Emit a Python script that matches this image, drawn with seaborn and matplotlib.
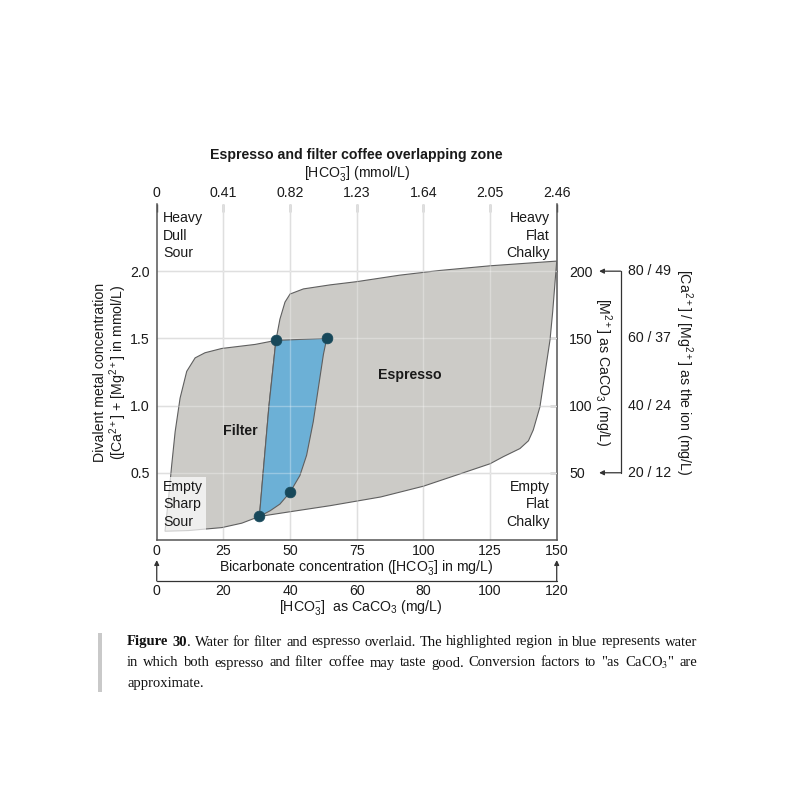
import matplotlib
matplotlib.use('Agg')
import matplotlib.pyplot as plt
import matplotlib.transforms as mtransforms
from matplotlib.patches import Rectangle
import seaborn as sns

# ---- values ----
bicarb_ticks = [0, 25, 50, 75, 100, 125, 150]                     # HCO3- in mg/L
mmol_labels = ['0', '0.41', '0.82', '1.23', '1.64', '2.05', '2.46']
caco3_x_labels = ['0', '20', '40', '60', '80', '100', '120']
metal_ticks = [0.5, 1.0, 1.5, 2.0]                                # mmol/L
caco3_y_labels = ['50', '100', '150', '200']
ion_labels = ['20 / 12', '40 / 24', '60 / 37', '80 / 49']

# filter zone outline (outside the overlap), from bottom overlap corner round to top overlap corner
filter_outer_x = [38.5, 31.9, 24.4, 11.9, 3.1, 4.4, 5.6, 6.9, 8.75, 11.25, 14.4, 18.1, 24.4, 36.9, 44.7]
filter_outer_y = [0.175, 0.125, 0.092, 0.07, 0.065, 0.305, 0.555, 0.805, 1.055, 1.255, 1.355, 1.393,
                  1.425, 1.455, 1.485]
# right edge of the filter zone (= right side of the overlap)
overlap_right_x = [63.75, 62.5, 60.6, 58.7, 56.2, 53.7, 50.0, 46.2, 42.5, 38.5]
overlap_right_y = [1.5, 1.38, 1.13, 0.88, 0.63, 0.48, 0.355, 0.267, 0.217, 0.175]
# left edge of the espresso zone inside the filter zone (= left side of the overlap)
overlap_left_x = [38.5, 39.9, 42.1, 44.7]
overlap_left_y = [0.175, 0.5, 1.0, 1.485]
# espresso zone outline outside the filter zone
espresso_outer_x = [44.7, 46.2, 48.1, 50, 55, 65, 75, 91, 106, 125, 150, 149.3, 148.5, 147.5, 145.6,
                    143.7, 141.2, 139.4, 136.2, 130, 125, 112, 100, 84, 65, 50, 38.5]
espresso_outer_y = [1.485, 1.643, 1.77, 1.83, 1.868, 1.898, 1.922, 1.97, 2.005, 2.04, 2.075, 1.9, 1.7,
                    1.49, 1.24, 0.99, 0.818, 0.738, 0.68, 0.62, 0.567, 0.48, 0.4, 0.32, 0.255, 0.21, 0.175]
corner_x = [44.7, 63.75, 50.0, 38.5]
corner_y = [1.485, 1.5, 0.355, 0.175]

caption_lines = [
    'Figure 30. Water for filter and espresso overlaid. The highlighted region in blue represents water',
    'in which both espresso and filter coffee may taste good. Conversion factors to "as CaCO$_3$" are',
    'approximate.',
]

sns.set_theme(style='white')
plt.rcParams['font.family'] = ['Liberation Sans', 'DejaVu Sans']
plt.rcParams['mathtext.fontset'] = 'custom'
plt.rcParams['mathtext.rm'] = 'Liberation Sans'
plt.rcParams['mathtext.it'] = 'Liberation Sans:italic'
plt.rcParams['mathtext.bf'] = 'Liberation Sans:bold'

FS = 10.2
INK = '#1a1a1a'
AXC = '#555555'
GREY = '#cccbc7'
BLUE = '#6cb0d6'
EDGE = '#5f5f5f'

fig = plt.figure(figsize=(7.9, 7.9), dpi=100)
ax = fig.add_axes([0.1984, 0.3165, 0.5063, 0.4253])
ax.set_xlim(0, 150)
ax.set_ylim(0, 2.5)

# zones
ax.fill(filter_outer_x + overlap_right_x, filter_outer_y + overlap_right_y,
        fc=GREY, ec=EDGE, lw=0.8, zorder=1)
ax.fill(overlap_left_x + espresso_outer_x, overlap_left_y + espresso_outer_y,
        fc=GREY, ec=EDGE, lw=0.8, zorder=1.1)
ax.fill(overlap_left_x + overlap_right_x, overlap_left_y + overlap_right_y,
        fc=BLUE, ec=EDGE, lw=0.8, zorder=1.2)
sns.scatterplot(x=corner_x, y=corner_y, s=60, color='#17485a', edgecolor='#17485a',
                linewidth=0.5, zorder=5, ax=ax)

# grid: grey below the zones, light above them
for x in bicarb_ticks[1:-1]:
    ax.axvline(x, color='#d2d2d2', lw=1.0, zorder=0.5)
    ax.axvline(x, color='white', lw=1.0, alpha=0.3, zorder=2)
for y in metal_ticks:
    ax.axhline(y, color='#d2d2d2', lw=1.0, zorder=0.5)
    ax.axhline(y, color='white', lw=1.0, alpha=0.3, zorder=2)

# axes styling
for s in ['top', 'right']:
    ax.spines[s].set_visible(False)
for s in ['left', 'bottom']:
    ax.spines[s].set_color(AXC)
    ax.spines[s].set_linewidth(1.1)
ax.set_xticks(bicarb_ticks, labels=[str(t) for t in bicarb_ticks])
ax.set_yticks(metal_ticks, labels=['%.1f' % t for t in metal_ticks])
ax.tick_params(axis='x', direction='in', length=6, width=1, color=AXC, pad=3.2,
               labelsize=FS, labelcolor=INK)
ax.tick_params(axis='y', direction='in', length=6, width=1, color=AXC, pad=5,
               labelsize=FS, labelcolor=INK)

top = ax.secondary_xaxis('top')
top.set_xticks(bicarb_ticks, labels=mmol_labels)
top.tick_params(direction='in', length=6, width=1, color=AXC, pad=3.0, labelsize=FS, labelcolor=INK)
top.spines['top'].set_visible(False)

right = ax.secondary_yaxis('right')
right.set_yticks(metal_ticks, labels=caco3_y_labels)
right.tick_params(direction='in', length=5, width=1, color=AXC, pad=9, labelsize=FS, labelcolor=INK)
right.spines['right'].set_color(AXC)
right.spines['right'].set_linewidth(1.1)

# titles and axis labels
ax.text(0.5, 1.146, 'Espresso and filter coffee overlapping zone', transform=ax.transAxes,
        ha='center', va='center', fontsize=10.2, fontweight='bold', color=INK)
ax.text(0.5, 1.092, '[HCO$_3^{-}$] (mmol/L)', transform=ax.transAxes,
        ha='center', va='center', fontsize=FS, color=INK)
ax.text(0.5, -0.083, 'Bicarbonate concentration ([HCO$_3^{-}$] in mg/L)', transform=ax.transAxes,
        ha='center', va='center', fontsize=FS, color=INK)
ax.text(-0.141, 0.5, 'Divalent metal concentration', transform=ax.transAxes, ha='center',
        va='center', rotation=90, fontsize=FS, color=INK)
ax.text(-0.097, 0.5, '([Ca$^{2+}$] + [Mg$^{2+}$] in mmol/L)', transform=ax.transAxes, ha='center',
        va='center', rotation=90, fontsize=FS, color=INK)

# bottom bracket: HCO3- as CaCO3
bx = mtransforms.blended_transform_factory(ax.transData, ax.transAxes)
ax.plot([bicarb_ticks[0], bicarb_ticks[-1]], [-0.122, -0.122], transform=bx, color='#333333',
        lw=0.9, clip_on=False)
for x in (bicarb_ticks[0], bicarb_ticks[-1]):
    ax.annotate('', xy=(x, -0.06), xytext=(x, -0.122), xycoords=bx, textcoords=bx,
                arrowprops=dict(arrowstyle='-|>', color='#333333', lw=0.9, mutation_scale=7,
                                shrinkA=0, shrinkB=0))
for x, lab in zip(bicarb_ticks, caco3_x_labels):
    ax.text(x, -0.153, lab, transform=bx, ha='center', va='center', fontsize=FS, color=INK)
ax.text(0.51, -0.2, '[HCO$_3^{-}$]  as CaCO$_3$ (mg/L)', transform=ax.transAxes,
        ha='center', va='center', fontsize=FS, color=INK)

# right bracket: M2+ as CaCO3 -> Ca / Mg as ions
by = mtransforms.blended_transform_factory(ax.transAxes, ax.transData)
ax.text(1.114, 0.5, '[M$^{2+}$] as CaCO$_3$ (mg/L)', transform=ax.transAxes, ha='center',
        va='center', rotation=270, fontsize=FS, color=INK)
ax.plot([1.16, 1.16], [metal_ticks[0], metal_ticks[-1]], transform=by, color='#333333',
        lw=0.9, clip_on=False)
for y in (metal_ticks[0], metal_ticks[-1]):
    ax.annotate('', xy=(1.106, y), xytext=(1.16, y), xycoords=by, textcoords=by,
                arrowprops=dict(arrowstyle='-|>', color='#333333', lw=0.9, mutation_scale=7,
                                shrinkA=0, shrinkB=0))
for y, lab in zip(metal_ticks, ion_labels):
    ax.text(1.179, y, lab, transform=by, ha='left', va='center', fontsize=FS, color=INK)
ax.text(1.318, 0.5, '[Ca$^{2+}$] / [Mg$^{2+}$] as the ion (mg/L)', transform=ax.transAxes,
        ha='center', va='center', rotation=270, fontsize=FS, color=INK)

# zone names and corner tastes
ax.text(94.8, 1.23, 'Espresso', ha='center', va='center', fontsize=FS, fontweight='bold',
        color=INK, zorder=6)
ax.text(31.4, 0.81, 'Filter', ha='center', va='center', fontsize=FS, fontweight='bold',
        color=INK, zorder=6)
ax.text(0.0165, 0.978, 'Heavy\nDull\nSour', transform=ax.transAxes, ha='left', va='top',
        fontsize=FS, color=INK, linespacing=1.32)
ax.text(0.983, 0.978, 'Heavy\nFlat\nChalky', transform=ax.transAxes, ha='right', va='top',
        fontsize=FS, color=INK, linespacing=1.32)
ax.text(0.0165, 0.033, 'Empty\nSharp\nSour', transform=ax.transAxes, ha='left', va='bottom',
        fontsize=FS, color=INK, linespacing=1.32, zorder=6,
        bbox=dict(boxstyle='square,pad=0.2', fc='white', ec='none', alpha=0.7))
ax.text(0.983, 0.033, 'Empty\nFlat\nChalky', transform=ax.transAxes, ha='right', va='bottom',
        fontsize=FS, color=INK, linespacing=1.32, zorder=6)

# caption, justified like the page
fig.add_artist(Rectangle((98 / 790, 1 - 692 / 790), 4 / 790, 59 / 790, transform=fig.transFigure,
                         fc='#c9c9c9', ec='none'))
renderer = fig.canvas.get_renderer()
W = fig.bbox.width
x0, x1 = 127, 697
baselines = [645.5, 666.5, 687.5]


def caption_words(i, line, size):
    words = []
    for j, w in enumerate(line.split(' ')):
        if i == 0 and j < 2:
            pieces = [(w.rstrip('.'), True)] + ([('.', False)] if w.endswith('.') else [])
        else:
            pieces = [(w, False)]
        arts = [fig.text(0, 0, t, fontsize=size, fontweight='bold' if b else 'normal',
                         family='Liberation Serif', math_fontfamily='stix', va='baseline',
                         color='#111111') for t, b in pieces]
        widths = [a.get_window_extent(renderer).width for a in arts]
        words.append((arts, widths))
    return words


# pick the caption size so the first line sets with about normal word spacing
probe = fig.text(0, 0, caption_lines[0].replace('$', ''), fontsize=10, family='Liberation Serif')
CFS = 10 * (x1 - x0 - 6) / probe.get_window_extent(renderer).width
probe.remove()

for i, (line, yb) in enumerate(zip(caption_lines, baselines)):
    y = 1 - yb / 790
    words = caption_words(i, line, CFS)
    total = sum(sum(ws) for _, ws in words)
    if i < len(caption_lines) - 1:
        gap = ((x1 - x0) - total) / (len(words) - 1)
    else:
        gap = 0.25 * CFS * 100 / 72
    x = x0
    for arts, ws in words:
        for a, wd in zip(arts, ws):
            a.set_position((x / W, y))
            x += wd
        x += gap

fig.savefig('out.png', dpi=100)
